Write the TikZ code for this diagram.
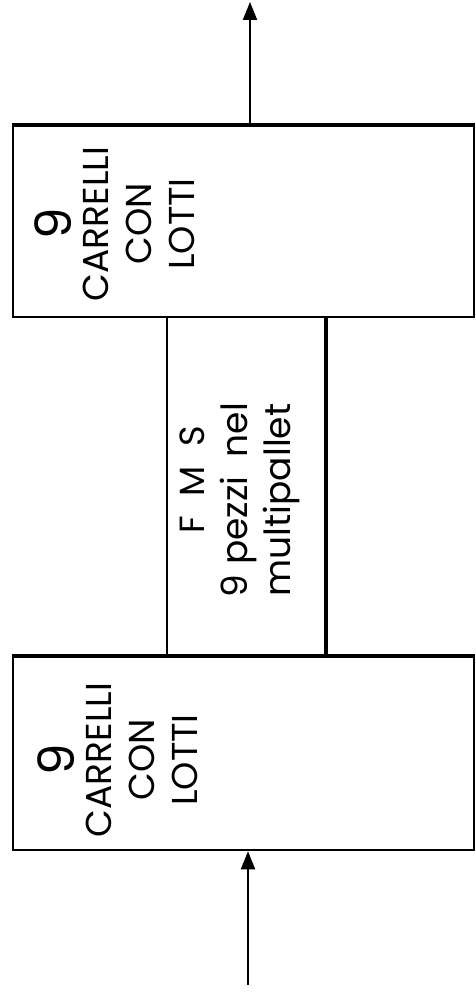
\documentclass[tikz,border=0pt]{standalone}
\usepackage{fontspec}
\setmainfont{Poppins}
\usetikzlibrary{arrows.meta}
\tikzset{
  box/.style={draw, line width=2.6pt, inner sep=0pt},
  lbl/.style={rotate=90, align=center, inner sep=0pt, font=\fontsize{36}{43}\selectfont},
  flow/.style={line width=2pt, -{Triangle[length=18pt,width=14pt]}}
}
\begin{document}
\begin{tikzpicture}[x=1pt,y=-1pt]
\useasboundingbox (0,0) rectangle (476,995);
% boxes
\node[box, minimum width=461pt, minimum height=191pt] (top) at (243.5,221.5) {};
\node[box, minimum width=158pt, minimum height=340pt] (mid) at (246,487) {};
\node[box, minimum width=461pt, minimum height=193pt] (bot) at (243.5,753.5) {};
\draw[line width=4.2pt] (mid.north east) -- (mid.south east);
\draw[line width=3.6pt] (top.north west) -- (top.north east);
\draw[line width=3.6pt] (bot.north west) -- (bot.north east);
% labels
\node[lbl] (toptext) at (115,224) {{\fontsize{50}{50}\selectfont 9}\\[-6pt]CARRELLI\\CON\\LOTTI};
\node[lbl] (midtext) at (240,500) {\fontsize{35}{46}\selectfont \hspace*{40pt}F\;\;M\;\;S\\9 pezzi\; nel\\multipallet};
\node[lbl] (bottext) at (118,760) {{\fontsize{50}{50}\selectfont 9}\\[-6pt]CARRELLI\\CON\\LOTTI};
% connectors
\coordinate (inS) at (248,985);
\coordinate (outE) at (250,2);
\draw[flow] (inS) -- (inS |- bot.south);
\draw[flow] (outE |- top.north) -- (outE);
\end{tikzpicture}
\end{document}
